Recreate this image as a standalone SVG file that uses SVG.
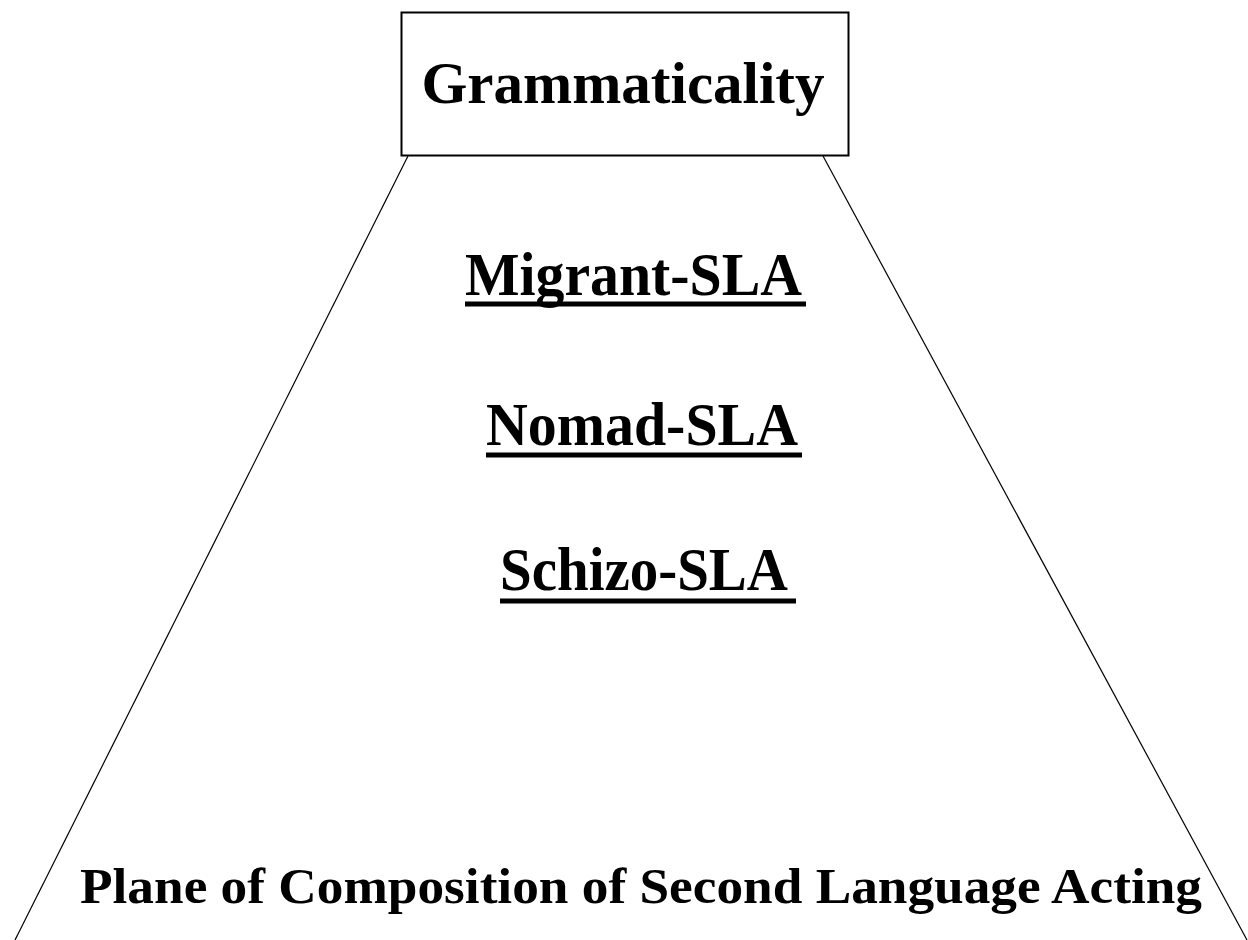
<svg xmlns="http://www.w3.org/2000/svg" width="1248" height="940" viewBox="0 0 1248 940">
<style>
.t{font-family:"Liberation Serif","Times New Roman",serif;font-weight:bold;fill:#000}
.ul{stroke:#000;stroke-width:5}
.edge{stroke:#000;stroke-width:1.2;fill:none}
</style>
<rect width="1248" height="940" fill="#fff"/>
<g id="connectors">
<line class="edge" x1="408" y1="156" x2="15" y2="940"/>
<line class="edge" x1="823" y1="156" x2="1247" y2="940"/>
</g>
<g id="grammaticality">
<rect x="401.5" y="12.5" width="447" height="143" fill="#fff" stroke="#000" stroke-width="2"/>
<text class="t" x="623" y="103" font-size="59" text-anchor="middle">Grammaticality</text>
</g>
<g id="migrant">
<text class="t" x="465" y="295" font-size="61" textLength="337" lengthAdjust="spacingAndGlyphs">Migrant-SLA</text>
<line class="ul" x1="465" y1="304" x2="806" y2="304"/>
</g>
<g id="nomad">
<text class="t" x="486" y="445" font-size="61" textLength="312" lengthAdjust="spacingAndGlyphs">Nomad-SLA</text>
<line class="ul" x1="486" y1="455" x2="802" y2="455"/>
</g>
<g id="schizo">
<text class="t" x="500" y="590" font-size="61" textLength="288" lengthAdjust="spacingAndGlyphs">Schizo-SLA</text>
<line class="ul" x1="500" y1="601" x2="796" y2="601"/>
</g>
<g id="plane">
<text class="t" x="80" y="903" font-size="50" textLength="1122" lengthAdjust="spacingAndGlyphs">Plane of Composition of Second Language Acting</text>
</g>
</svg>
